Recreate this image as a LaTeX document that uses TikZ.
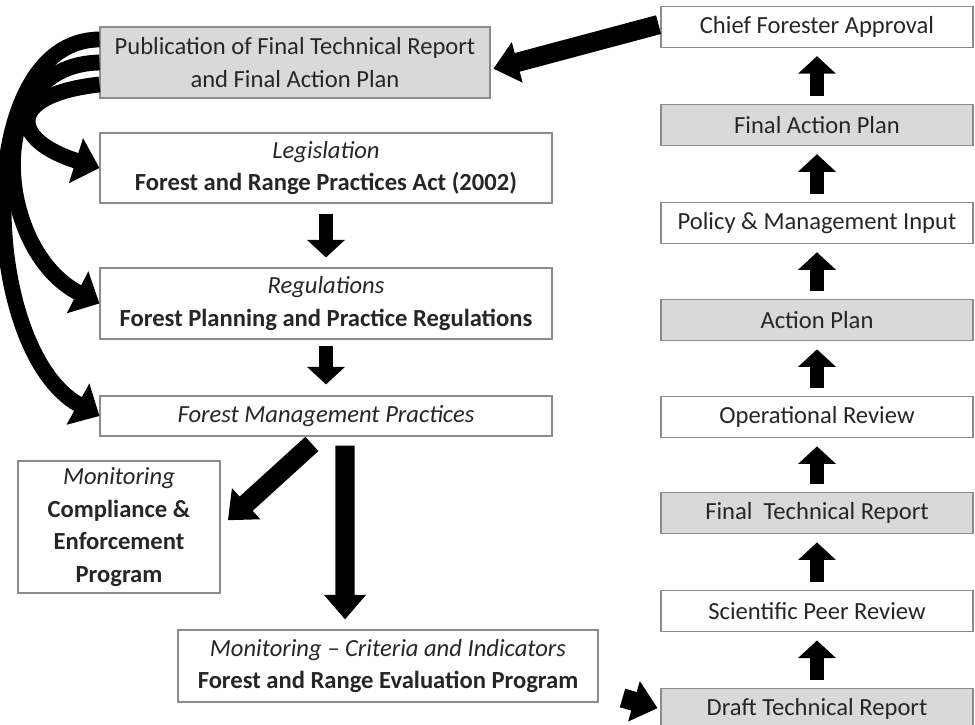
\documentclass[tikz,border=0pt]{standalone}
\usepackage{fontspec}
\setmainfont{Carlito}
\usetikzlibrary{arrows.meta,positioning}
\definecolor{boxline}{HTML}{8C8C8C}
\definecolor{boxgray}{HTML}{D9D9D9}
\definecolor{txt}{HTML}{262626}

\begin{document}
\begin{tikzpicture}[
        box/.style={draw=boxline,line width=0.6pt,fill=white,text=txt,align=center,
          font=\fontsize{14}{18.5}\selectfont,inner sep=2pt},
        gbox/.style={box,fill=boxgray},
        rbox/.style={box,minimum width=6.24cm,minimum height=0.82cm},
        grbox/.style={rbox,fill=boxgray},
        fat/.style={-{Triangle[length=10pt,width=21pt]},line width=8pt,black},
        big/.style={-{Triangle[length=14pt,width=23pt]},line width=11pt,black},
        curvy/.style={-{Triangle[length=14pt,width=26pt]},line width=9pt,black}]
        \useasboundingbox (0,0) rectangle (19.5,-14.5);
        % left column
        \node[gbox,minimum width=7.8cm,minimum height=1.42cm](pub) at (5.9,-1.25)
          {Publication of Final Technical Report\\and Final Action Plan};
        \node[box,minimum width=9.04cm,minimum height=1.4cm](leg) at (6.52,-3.36)
          {\textit{Legislation}\\\textbf{Forest and Range Practices Act (2002)}};
        \node[box,minimum width=9.04cm,minimum height=1.42cm](reg) at (6.52,-6.07)
          {\textit{Regulations}\\\textbf{Forest Planning and Practice Regulations}};
        \node[box,minimum width=9.04cm,minimum height=0.8cm](fmp) at (6.52,-8.32)
          {\textit{Forest Management Practices}};
        \node[box,minimum width=4.04cm,minimum height=2.64cm](mon) at (2.38,-10.54)
          {\textit{Monitoring}\\\textbf{Compliance \&}\\\textbf{Enforcement}\\\textbf{Program}};
        \node[box,minimum width=8.4cm,minimum height=1.44cm](crit) at (7.76,-13.32)
          {\textit{Monitoring -- Criteria and Indicators}\\\textbf{Forest and Range Evaluation Program}};
        % right column
        \node[grbox](dtr) at (16.34,-14.18){Draft Technical Report};
        \node[rbox,above=1.12cm of dtr](spr){Scientific Peer Review};
        \node[grbox,above=1.12cm of spr](ftr){Final\ \ Technical Report};
        \node[rbox,above=1.08cm of ftr](opr){Operational Review};
        \node[grbox,above=1.1cm of opr](ap){Action Plan};
        \node[rbox,above=1.1cm of ap](pmi){Policy \& Management Input};
        \node[grbox,above=1.12cm of pmi](fap){Final Action Plan};
        \node[rbox,above=1.12cm of fap](chief){Chief Forester Approval};
        % arrows
        \foreach \a/\b in {dtr/spr,spr/ftr,ftr/opr,opr/ap,ap/pmi,pmi/fap,fap/chief}
          \draw[fat,shorten <=0.16cm,shorten >=0.17cm](\a)--(\b);
        \draw[fat,shorten <=0.2cm,shorten >=0.2cm](leg)--(reg);
        \draw[fat,shorten <=0.12cm,shorten >=0.22cm](reg)--(fmp);
        \draw[big,shorten <=0.18cm,shorten >=0.2cm]([xshift=0.38cm]fmp.south)--([xshift=-0.86cm]crit.north);
        \draw[big,shorten <=0.22cm,shorten >=0.2cm]([xshift=-0.12cm]fmp.south)--(mon.east);
        \draw[big,shorten <=0.04cm,shorten >=0.06cm]([yshift=0.05cm]chief.west)--([yshift=-0.14cm]pub.east);
        \draw[big,shorten >=0.06cm]([xshift=0.48cm,yshift=-0.64cm]crit.east)--(dtr.west);
        \draw[curvy]([yshift=0.46cm]pub.west) .. controls (-0.6,-0.8) and (-0.4,-7.0) .. (fmp.west);
        \draw[curvy](pub.west) .. controls (-0.4,-1.3) and (-0.1,-5.0) .. (reg.west);
        \draw[curvy]([yshift=-0.44cm]pub.west) .. controls (0.1,-1.9) and (0.2,-2.8) .. (leg.west);
      \end{tikzpicture}
\end{document}
